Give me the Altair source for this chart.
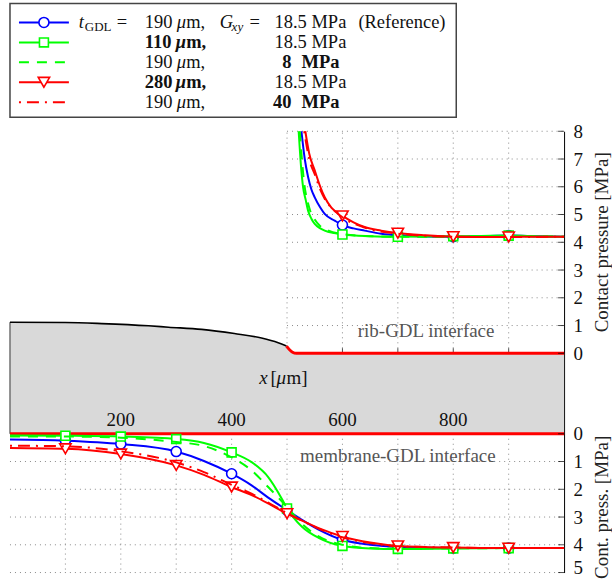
import altair as alt
import pandas as pd

FONT = "Liberation Serif, Times New Roman, serif"
GAP = 2.9  # offset (in MPa units) between the top-panel zero and the bottom-panel zero

# ---------------- series ----------------
series_keys = ["ref", "t110", "g8", "t280", "g40"]
series_colors = ["#0000ff", "#00ff00", "#00ff00", "#ff0000", "#ff0000"]
series_dash = [None, None, [10, 8], None, [2, 6, 12, 6]]
series_shape = ["circle", "square", None, "triangle-down", None]
series_size = [100, 80, 0, 130, 0]

# ---- top panel: rib-GDL interface contact pressure [MPa] ----
rib_x_ref = [526, 532, 538, 544, 550, 560, 568, 586, 600, 620, 640, 670, 700, 750, 800, 850, 900, 950, 1000]
rib_p_ref = [8.0, 7.0, 6.35, 5.9, 5.62, 5.25, 5.02, 4.78, 4.62, 4.5, 4.42, 4.31, 4.25, 4.21, 4.2, 4.22, 4.24, 4.22, 4.2]
rib_x_t110 = [521, 525, 529, 534, 538, 544, 550, 560, 568, 585, 600, 650, 700, 750, 800, 850, 900, 950, 1000]
rib_p_t110 = [8.0, 6.8, 5.98, 5.5, 5.14, 4.85, 4.66, 4.5, 4.42, 4.33, 4.28, 4.22, 4.2, 4.21, 4.22, 4.23, 4.24, 4.22, 4.2]
rib_x_g8 = [523, 530, 540, 550, 560, 575, 600, 650, 700, 800, 900, 1000]
rib_p_g8 = [8.0, 6.3, 5.25, 4.82, 4.58, 4.42, 4.3, 4.22, 4.2, 4.2, 4.22, 4.2]
rib_x_t280 = [533, 540, 550, 560, 568, 580, 600, 620, 640, 670, 700, 750, 800, 850, 900, 950, 1000]
rib_p_t280 = [8.0, 7.2, 6.59, 6.0, 5.62, 5.25, 4.95, 4.72, 4.55, 4.42, 4.33, 4.25, 4.2, 4.19, 4.19, 4.2, 4.2]
rib_x_g40 = [531, 540, 550, 560, 570, 585, 600, 640, 700, 800, 900, 1000]
rib_p_g40 = [8.0, 7.0, 6.45, 5.9, 5.5, 5.15, 4.9, 4.53, 4.31, 4.2, 4.19, 4.2]

# ---- bottom panel: membrane-GDL interface contact pressure [MPa] ----
mem_x_ref = [0, 100, 200, 300, 350, 400, 436, 466, 500, 527, 557, 600, 650, 700, 800, 900, 1000]
mem_p_ref = [0.21, 0.25, 0.37, 0.64, 0.98, 1.44, 1.86, 2.3, 2.75, 3.1, 3.45, 3.82, 4.0, 4.08, 4.12, 4.12, 4.12]
mem_x_t110 = [0, 100, 200, 300, 350, 400, 436, 466, 490, 500, 527, 557, 600, 650, 700, 800, 900, 1000]
mem_p_t110 = [0.06, 0.07, 0.1, 0.19, 0.33, 0.67, 1.02, 1.56, 2.32, 2.69, 3.35, 3.75, 4.04, 4.13, 4.15, 4.13, 4.12, 4.12]
mem_x_g8 = [0, 100, 200, 300, 346, 400, 436, 466, 500, 527, 557, 600, 650, 700, 800, 900, 1000]
mem_p_g8 = [0.1, 0.1, 0.14, 0.3, 0.42, 0.85, 1.32, 1.92, 2.64, 3.25, 3.7, 4.0, 4.12, 4.14, 4.13, 4.12, 4.12]
mem_x_t280 = [0, 100, 200, 300, 350, 400, 436, 466, 500, 527, 557, 600, 650, 700, 800, 900, 1000]
mem_p_t280 = [0.51, 0.54, 0.73, 1.14, 1.48, 1.92, 2.21, 2.51, 2.88, 3.13, 3.4, 3.7, 3.92, 4.04, 4.1, 4.12, 4.12]
mem_x_g40 = [0, 100, 200, 300, 350, 400, 436, 466, 500, 527, 557, 600, 650, 700, 800, 900, 1000]
mem_p_g40 = [0.43, 0.45, 0.63, 1.03, 1.38, 1.84, 2.16, 2.48, 2.86, 3.13, 3.42, 3.73, 3.94, 4.05, 4.1, 4.12, 4.12]

top_marker_x = [600, 700, 800, 900]
bot_marker_x = [100, 200, 300, 400, 500, 600, 700, 800, 900]

# ---- deformed GDL surface (free part, black) and rib contact (red) ----
gdl_x = [0, 100, 166, 250, 286, 346, 405, 454, 484, 499]
gdl_h = [1.12, 1.11, 1.07, 0.99, 0.94, 0.86, 0.71, 0.55, 0.38, 0.26]
rib_contact_x = [499, 505, 510, 517, 1000]
rib_contact_h = [0.26, 0.12, 0.04, 0.0, 0.0]
mem_contact_x = [0, 1000]

# ---- axes / grid ----
top_ticks = [0, 1, 2, 3, 4, 5, 6, 7, 8]
bot_ticks = [0, 1, 2, 3, 4, 5]
grid_x_top = [500, 600, 700, 800, 900]
grid_x_bot = [100, 200, 300, 400, 500, 600, 700, 800, 900]
x_tick_top = [600, 700, 800, 900]
x_tick_labels = [200, 400, 600, 800]

# ---- legend text ----
leg_thick = ["190", "110", "190", "280", "190"]
leg_thick_bold = [False, True, False, True, False]
leg_mod = ["18.5", "18.5", "8", "18.5", "40"]
leg_mod_bold = [False, False, True, False, True]

# =====================================================================
W, H = 555, 442
xs = alt.Scale(domain=[0, 1000], nice=False, zero=False)
ys = alt.Scale(domain=[-GAP - 5, 8], nice=False, zero=False)
axis_vals = [float(v) for v in top_ticks] + [-GAP - v for v in bot_ticks]
y_axis = alt.Axis(
    orient="right", values=axis_vals,
    labelExpr=f"datum.value > -1 ? format(datum.value, 'd') : format(-datum.value - {GAP}, '.0f')",
    ticks=False, tickSize=0, grid=False, domainColor="#000000", domainWidth=1,
    labelFont=FONT, labelFontSize=19, labelColor="#111111", labelPadding=9, title=None,
    labelOffset={"condition": {"test": "datum.value < -7.5", "value": -5}, "value": 0},
)
X = alt.X("x:Q", scale=xs, axis=None)
Y = alt.Y("Y:Q", scale=ys, axis=y_axis)

layers = []

# grid
grid_rows = []
for v in top_ticks[1:]:
    grid_rows.append(dict(x=500, x2=1000, Y=v, Y2=v))
for xv in grid_x_top:
    grid_rows.append(dict(x=xv, x2=xv, Y=0, Y2=8))
for v in bot_ticks[1:]:
    grid_rows.append(dict(x=0, x2=1000, Y=-GAP - v, Y2=-GAP - v))
for xv in grid_x_bot:
    grid_rows.append(dict(x=xv, x2=xv, Y=-GAP, Y2=-GAP - 5))
layers.append(
    alt.Chart(pd.DataFrame(grid_rows)).mark_rule(color="#8a8a8a", strokeWidth=1, strokeDash=[1, 4])
    .encode(x=X, x2="x2:Q", y=Y, y2="Y2:Q")
)

# x ticks at rib interface
layers.append(
    alt.Chart(pd.DataFrame(dict(x=x_tick_top, Y=[0] * len(x_tick_top))))
    .mark_tick(orient="vertical", size=10, thickness=1, color="#000000")
    .encode(x=X, y=Y)
)

# gray GDL body
area_df = pd.DataFrame(dict(x=gdl_x + rib_contact_x[1:], Y=gdl_h + rib_contact_h[1:]))
area_df["Y2"] = -GAP
layers.append(
    alt.Chart(area_df).mark_area(color="#d9d9d9", opacity=1, interpolate="monotone")
    .encode(x=X, y=Y, y2="Y2:Q")
)
layers.append(
    alt.Chart(pd.DataFrame(dict(x=[0], Y=[gdl_h[0]], Y2=[-GAP])))
    .mark_rule(color="#333333", strokeWidth=1).encode(x=X, y=Y, y2="Y2:Q")
)
layers.append(
    alt.Chart(pd.DataFrame(dict(x=gdl_x, Y=gdl_h)))
    .mark_line(color="#000000", strokeWidth=1.6, interpolate="monotone").encode(x=X, y=Y)
)
layers.append(
    alt.Chart(pd.DataFrame(dict(x=rib_contact_x, Y=rib_contact_h)))
    .mark_line(color="#ff0000", strokeWidth=3, interpolate="monotone").encode(x=X, y=Y)
)
layers.append(
    alt.Chart(pd.DataFrame(dict(x=mem_contact_x, Y=[-GAP] * len(mem_contact_x))))
    .mark_line(color="#ff0000", strokeWidth=3).encode(x=X, y=Y)
)

# inward ticks on right axis
layers.append(
    alt.Chart(pd.DataFrame(dict(x=[1000] * len(axis_vals), Y=axis_vals)))
    .mark_tick(orient="horizontal", size=6, thickness=1, color="#000000", xOffset=-3)
    .encode(x=X, y=Y)
)

# text annotations
txt = dict(font=FONT, fontSize=19, baseline="middle")
layers.append(
    alt.Chart(pd.DataFrame(dict(x=x_tick_labels, Y=[-2.4] * 4, t=[str(v) for v in x_tick_labels])))
    .mark_text(align="center", color="#111111", **txt).encode(x=X, y=Y, text="t:N")
)
layers.append(
    alt.Chart(pd.DataFrame(dict(x=[465], Y=[-0.89], t=["x"])))
    .mark_text(align="right", fontStyle="italic", color="#111111", **txt).encode(x=X, y=Y, text="t:N")
)
layers.append(
    alt.Chart(pd.DataFrame(dict(x=[470, 499], Y=[-0.89, -0.89], t=["[", "m]"])))
    .mark_text(align="left", color="#111111", **txt).encode(x=X, y=Y, text="t:N")
)
layers.append(
    alt.Chart(pd.DataFrame(dict(x=[481], Y=[-0.89], t=["\u03bc"])))
    .mark_text(align="left", fontStyle="italic", color="#111111", **txt).encode(x=X, y=Y, text="t:N")
)
layers.append(
    alt.Chart(pd.DataFrame(dict(x=[751, 700], Y=[0.8, -GAP - 0.79],
                                t=["rib-GDL interface", "membrane-GDL interface"])))
    .mark_text(align="center", color="#555555", **txt).encode(x=X, y=Y, text="t:N")
)
layers.append(
    alt.Chart(pd.DataFrame(dict(Y=[4.0, -GAP - 2.65], t=["Contact pressure [MPa]", "Cont. press. [MPa]"])))
    .mark_text(align="center", angle=270, color="#222222", **txt)
    .encode(x=alt.value(W + 38), y=Y, text="t:N")
)

# data curves
rib_x = [rib_x_ref, rib_x_t110, rib_x_g8, rib_x_t280, rib_x_g40]
rib_p = [rib_p_ref, rib_p_t110, rib_p_g8, rib_p_t280, rib_p_g40]
mem_x = [mem_x_ref, mem_x_t110, mem_x_g8, mem_x_t280, mem_x_g40]
mem_p = [mem_p_ref, mem_p_t110, mem_p_g8, mem_p_t280, mem_p_g40]

for i, key in enumerate(series_keys):
    top = pd.DataFrame(dict(x=rib_x[i], Y=rib_p[i]))
    top["panel"] = "top"
    top["m"] = top["x"].isin(top_marker_x)
    bot = pd.DataFrame(dict(x=mem_x[i], Y=[-GAP - v for v in mem_p[i]]))
    bot["panel"] = "bot"
    bot["m"] = bot["x"].isin(bot_marker_x)
    df = pd.concat([top, bot], ignore_index=True)
    lk = dict(color=series_colors[i], strokeWidth=2, interpolate="monotone")
    if series_dash[i] is not None:
        lk["strokeDash"] = series_dash[i]
    layers.append(alt.Chart(df).mark_line(**lk).encode(x=X, y=Y, detail="panel:N"))
    if series_shape[i] is not None:
        layers.append(
            alt.Chart(df[df["m"]]).mark_point(
                shape=series_shape[i], size=series_size[i], filled=True, fill="#ffffff",
                stroke=series_colors[i], strokeWidth=1.6, opacity=1,
            ).encode(x=X, y=Y)
        )

main = alt.layer(*layers).properties(width=W, height=H)

# =====================================================================
# legend box
LW, LH = 447, 114
lxs = alt.Scale(domain=[0, LW], nice=False, zero=False)
lys = alt.Scale(domain=[0, LH], nice=False, zero=False, reverse=True)
LX = alt.X("x:Q", scale=lxs, axis=None)
LY = alt.Y("y:Q", scale=lys, axis=None)

row_y = [19, 39, 59, 79, 99]
sym_x0, sym_x1, sym_xm = 9, 59, 34

leg_layers = []
for i, key in enumerate(series_keys):
    lk = dict(color=series_colors[i], strokeWidth=2)
    if series_dash[i] is not None:
        lk["strokeDash"] = series_dash[i]
    leg_layers.append(
        alt.Chart(pd.DataFrame(dict(x=[sym_x0], x2=[sym_x1], y=[row_y[i]])))
        .mark_rule(**lk).encode(x=LX, x2="x2:Q", y=LY)
    )
    if series_shape[i] is not None:
        leg_layers.append(
            alt.Chart(pd.DataFrame(dict(x=[sym_xm], y=[row_y[i]])))
            .mark_point(shape=series_shape[i], size=series_size[i], filled=True, fill="#ffffff",
                        stroke=series_colors[i], strokeWidth=1.6, opacity=1)
            .encode(x=LX, y=LY)
        )

items = []  # (style, x, y, text)
items += [("ital", 69, row_y[0], "t"), ("sub", 75, row_y[0], "GDL"), ("reg", 107, row_y[0], "=")]
items += [("ital", 210, row_y[0], "G"), ("subital", 222, row_y[0], "xy"), ("reg", 240, row_y[0], "=")]
items += [("reg", 349, row_y[0], "(Reference)")]
for i in range(5):
    if leg_thick_bold[i]:
        items += [("bold", 135, row_y[i], leg_thick[i]), ("boldital", 166, row_y[i], "\u03bc"),
                  ("bold", 176.5, row_y[i], "m,")]
    else:
        items += [("reg", 135, row_y[i], leg_thick[i]), ("ital", 167, row_y[i], "\u03bc"),
                  ("reg", 176.5, row_y[i], "m,")]
    if leg_mod_bold[i]:
        items += [("boldR", 282, row_y[i], leg_mod[i]), ("bold", 292, row_y[i], "MPa")]
    else:
        items += [("reg", 265, row_y[i], leg_mod[i] + " MPa")]

styles = {
    "reg": dict(fontSize=18.5),
    "ital": dict(fontSize=18.5, fontStyle="italic"),
    "bold": dict(fontSize=18.5, fontWeight="bold"),
    "boldital": dict(fontSize=18.5, fontWeight="bold", fontStyle="italic"),
    "boldR": dict(fontSize=18.5, fontWeight="bold", align="right"),
    "sub": dict(fontSize=13, dy=5),
    "subital": dict(fontSize=13, dy=5, fontStyle="italic"),
}
items_df = pd.DataFrame(items, columns=["style", "x", "y", "t"])
for st, kw in styles.items():
    sub = items_df[items_df["style"] == st]
    if len(sub) == 0:
        continue
    k = dict(font=FONT, baseline="middle", align="left", color="#111111")
    k.update(kw)
    leg_layers.append(alt.Chart(sub).mark_text(**k).encode(x=LX, y=LY, text="t:N"))

legend = alt.layer(*leg_layers).properties(
    width=LW, height=LH,
    view=alt.ViewBackground(stroke="#444444", strokeWidth=1.5, fill="#ffffff"),
)

chart = alt.vconcat(
    legend, main, spacing=14, bounds="flush",
    padding={"left": 4, "top": 2, "right": 0, "bottom": 0},
).configure_view(strokeWidth=0).properties(background="#ffffff")

chart.save("out.html", embed_options={"renderer": "svg", "actions": False})
